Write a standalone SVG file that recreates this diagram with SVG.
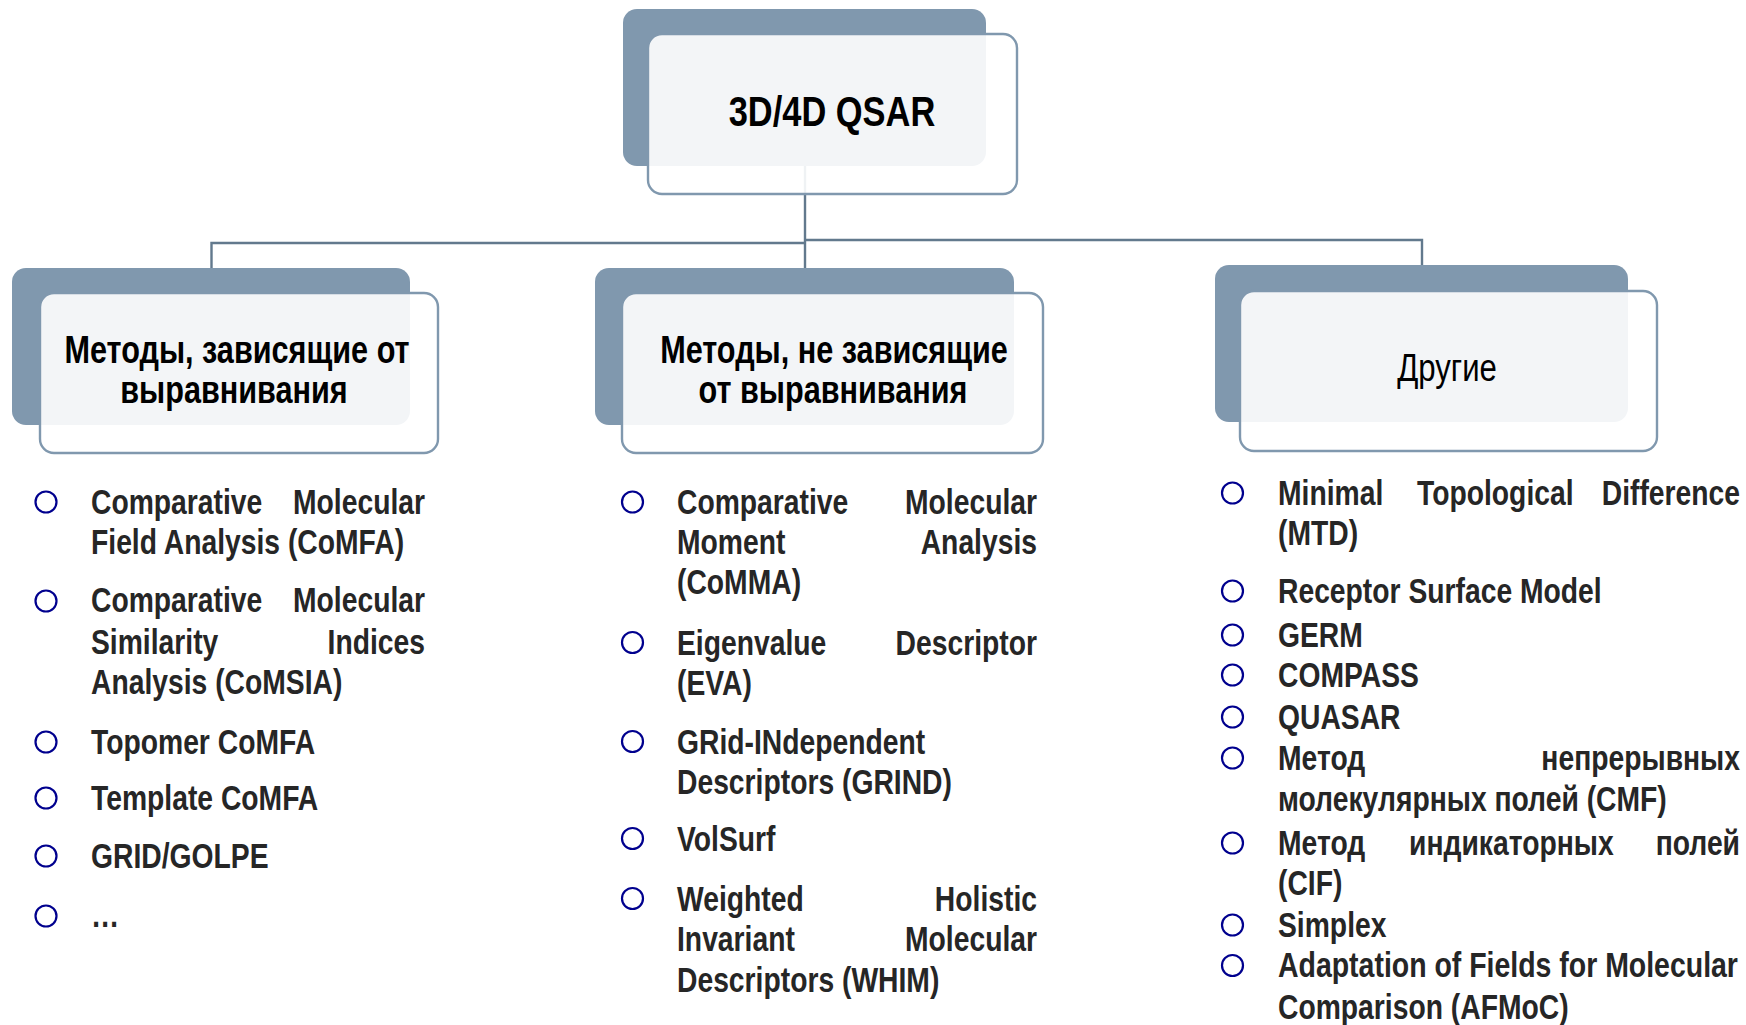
<svg xmlns="http://www.w3.org/2000/svg" width="1746" height="1025" viewBox="0 0 1746 1025">
<style>
.back{fill:#8098AE}
.front{fill:#FFFFFF;fill-opacity:0.9;stroke:#8098AE;stroke-width:2.4}
.conn{stroke:#62798D;stroke-width:2.4;fill:none}
.title{font-family:"Liberation Sans",Arial,sans-serif;font-weight:bold;fill:#000;text-anchor:middle}
.sub{font-family:"Liberation Sans",Arial,sans-serif;fill:#000;text-anchor:middle}
.li{font-family:"Liberation Sans",Arial,sans-serif;font-weight:bold;font-size:34.5px;fill:#262626}
.r{text-anchor:end}
.bul{fill:none;stroke:#00008E;stroke-width:2.2}
</style>
<rect width="1746" height="1025" fill="#FFFFFF"/>
<g id="connectors">
  <line class="conn" x1="805" y1="150" x2="805" y2="268"/>
  <polyline class="conn" points="211.5,268 211.5,243 805,243"/>
  <polyline class="conn" points="805,240 1422,240 1422,266"/>
</g>
<g id="node-root">
  <rect class="back" x="623" y="9" width="363" height="157" rx="14"/>
  <rect class="front" x="648" y="34" width="369" height="160" rx="14"/>
  <text class="title" font-size="42" transform="translate(832 126) scale(0.82 1)">3D/4D QSAR</text>
</g>
<g id="node-dependent">
  <rect class="back" x="12" y="268" width="398" height="157" rx="14"/>
  <rect class="front" x="40" y="293" width="398" height="160" rx="14"/>
  <text class="title" font-size="38" transform="translate(237 363) scale(0.806 1)">Методы, зависящие от</text>
  <text class="title" font-size="38" transform="translate(234 403) scale(0.806 1)">выравнивания</text>
</g>
<g id="node-independent">
  <rect class="back" x="595" y="268" width="419" height="157" rx="14"/>
  <rect class="front" x="622" y="293" width="421" height="160" rx="14"/>
  <text class="title" font-size="38" transform="translate(834 363) scale(0.806 1)">Методы, не зависящие</text>
  <text class="title" font-size="38" transform="translate(833 403) scale(0.806 1)">от выравнивания</text>
</g>
<g id="node-other">
  <rect class="back" x="1215" y="265" width="413" height="157" rx="14"/>
  <rect class="front" x="1240" y="291" width="417" height="160" rx="14"/>
  <text class="sub" font-size="38" transform="translate(1447 381) scale(0.82 1)">Другие</text>
</g>
<g id="list-dependent">
  <circle class="bul" cx="46" cy="502" r="10.5"/>
  <circle class="bul" cx="46" cy="601" r="10.5"/>
  <circle class="bul" cx="46" cy="742" r="10.5"/>
  <circle class="bul" cx="46" cy="798" r="10.5"/>
  <circle class="bul" cx="46" cy="856" r="10.5"/>
  <circle class="bul" cx="46" cy="916" r="10.5"/>
  <text class="li" transform="translate(91 514) scale(0.82 1)">Comparative</text><text class="li r" transform="translate(425 514) scale(0.82 1)">Molecular</text>
  <text class="li" transform="translate(91 554) scale(0.82 1)">Field Analysis (CoMFA)</text>
  <text class="li" transform="translate(91 612) scale(0.82 1)">Comparative</text><text class="li r" transform="translate(425 612) scale(0.82 1)">Molecular</text>
  <text class="li" transform="translate(91 654) scale(0.82 1)">Similarity</text><text class="li r" transform="translate(425 654) scale(0.82 1)">Indices</text>
  <text class="li" transform="translate(91 694) scale(0.82 1)">Analysis (CoMSIA)</text>
  <text class="li" transform="translate(91 754) scale(0.82 1)">Topomer CoMFA</text>
  <text class="li" transform="translate(91 810) scale(0.82 1)">Template CoMFA</text>
  <text class="li" transform="translate(91 868) scale(0.82 1)">GRID/GOLPE</text>
  <text class="li" transform="translate(91 927) scale(0.82 1)">…</text>
</g>
<g id="list-independent">
  <circle class="bul" cx="632.5" cy="502" r="10.5"/>
  <circle class="bul" cx="632.5" cy="642.5" r="10.5"/>
  <circle class="bul" cx="632.5" cy="741.5" r="10.5"/>
  <circle class="bul" cx="632.5" cy="838.5" r="10.5"/>
  <circle class="bul" cx="632.5" cy="898.5" r="10.5"/>
  <text class="li" transform="translate(677 514) scale(0.82 1)">Comparative</text><text class="li r" transform="translate(1037 514) scale(0.82 1)">Molecular</text>
  <text class="li" transform="translate(677 554) scale(0.82 1)">Moment</text><text class="li r" transform="translate(1037 554) scale(0.82 1)">Analysis</text>
  <text class="li" transform="translate(677 594) scale(0.82 1)">(CoMMA)</text>
  <text class="li" transform="translate(677 655) scale(0.82 1)">Eigenvalue</text><text class="li r" transform="translate(1037 655) scale(0.82 1)">Descriptor</text>
  <text class="li" transform="translate(677 695) scale(0.82 1)">(EVA)</text>
  <text class="li" transform="translate(677 754) scale(0.82 1)">GRid-INdependent</text>
  <text class="li" transform="translate(677 794) scale(0.82 1)">Descriptors (GRIND)</text>
  <text class="li" transform="translate(677 851) scale(0.82 1)">VolSurf</text>
  <text class="li" transform="translate(677 911) scale(0.82 1)">Weighted</text><text class="li r" transform="translate(1037 911) scale(0.82 1)">Holistic</text>
  <text class="li" transform="translate(677 951) scale(0.82 1)">Invariant</text><text class="li r" transform="translate(1037 951) scale(0.82 1)">Molecular</text>
  <text class="li" transform="translate(677 992) scale(0.82 1)">Descriptors (WHIM)</text>
</g>
<g id="list-other">
  <circle class="bul" cx="1232.5" cy="493" r="10.5"/>
  <circle class="bul" cx="1232.5" cy="591" r="10.5"/>
  <circle class="bul" cx="1232.5" cy="635" r="10.5"/>
  <circle class="bul" cx="1232.5" cy="675" r="10.5"/>
  <circle class="bul" cx="1232.5" cy="717" r="10.5"/>
  <circle class="bul" cx="1232.5" cy="758" r="10.5"/>
  <circle class="bul" cx="1232.5" cy="843" r="10.5"/>
  <circle class="bul" cx="1232.5" cy="925" r="10.5"/>
  <circle class="bul" cx="1232.5" cy="965.5" r="10.5"/>
  <text class="li" transform="translate(1278 505) scale(0.82 1)">Minimal</text><text class="li" transform="translate(1417 505) scale(0.82 1)">Topological</text><text class="li r" transform="translate(1740 505) scale(0.82 1)">Difference</text>
  <text class="li" transform="translate(1278 545) scale(0.82 1)">(MTD)</text>
  <text class="li" transform="translate(1278 603) scale(0.82 1)">Receptor Surface Model</text>
  <text class="li" transform="translate(1278 647) scale(0.82 1)">GERM</text>
  <text class="li" transform="translate(1278 687) scale(0.82 1)">COMPASS</text>
  <text class="li" transform="translate(1278 729) scale(0.82 1)">QUASAR</text>
  <text class="li" transform="translate(1278 770) scale(0.82 1)">Метод</text><text class="li r" transform="translate(1740 770) scale(0.82 1)">непрерывных</text>
  <text class="li" transform="translate(1278 811) scale(0.82 1)">молекулярных полей (CMF)</text>
  <text class="li" transform="translate(1278 855) scale(0.82 1)">Метод</text><text class="li" transform="translate(1409 855) scale(0.82 1)">индикаторных</text><text class="li r" transform="translate(1740 855) scale(0.82 1)">полей</text>
  <text class="li" transform="translate(1278 895) scale(0.82 1)">(CIF)</text>
  <text class="li" transform="translate(1278 937) scale(0.82 1)">Simplex</text>
  <text class="li" transform="translate(1278 977) scale(0.825 1)">Adaptation of Fields for Molecular</text>
  <text class="li" transform="translate(1278 1019) scale(0.82 1)">Comparison (AFMoC)</text>
</g>
</svg>
